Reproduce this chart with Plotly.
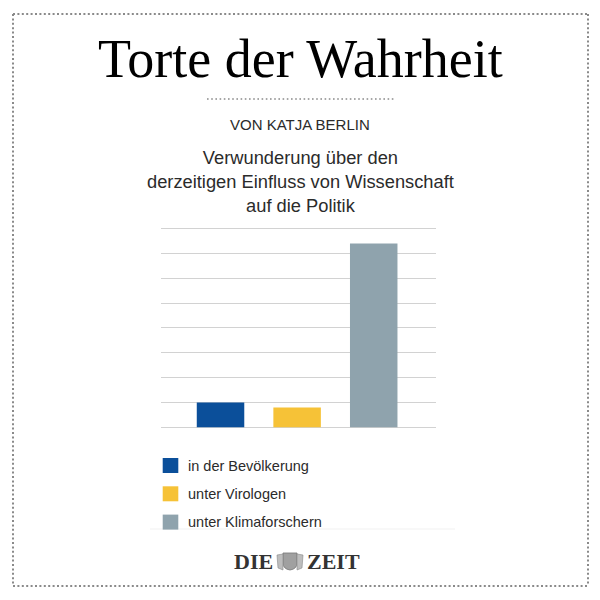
import plotly.graph_objects as go

# data
gruppen = ["in der Bevölkerung", "unter Virologen", "unter Klimaforschern"]
werte = [1.0, 0.8, 7.4]
farben = ["#0b4f9a", "#f6c237", "#8fa3ad"]

titel = "Torte der Wahrheit"
autor = "VON KATJA BERLIN"
frage = "Verwunderung über den<br>derzeitigen Einfluss von Wissenschaft<br>auf die Politik"

# the page body keeps its 8px margin, so the figure is drawn 8px in
OFF = 8
W = H = 600 - 2 * OFF


def px(x):
    return (x - OFF) / W


def py(y):
    return 1 - (y - OFF) / H


fig = go.Figure(go.Bar(
    x=list(range(len(gruppen))),
    y=werte,
    marker_color=farben,
    marker_line_width=0,
    width=0.62,
    hoverinfo="skip",
    showlegend=False,
))

pad = 0.2  # keeps the 0 and 8 gridlines inside the plot area
unit = (427.3 - 228.7) / 8
fig.update_layout(
    width=W, height=H,
    margin=dict(l=0, r=0, t=0, b=0),
    paper_bgcolor="white",
    plot_bgcolor="white",
    xaxis=dict(domain=[px(161), px(436)], range=[-0.777, 2.813],
               showticklabels=False, showgrid=False, zeroline=False, fixedrange=True),
    yaxis=dict(domain=[py(427.3 + pad * unit), py(228.7 - pad * unit)],
               range=[-pad, 8 + pad], tickvals=list(range(0, 9)),
               showticklabels=False, showgrid=True, gridcolor="#d2d2d2",
               gridwidth=1.3, zeroline=False, fixedrange=True),
)

dots = dict(color="#8a8a8a", width=2, dash="2px,2.4px")
# outer dotted frame
for x0, y0, x1, y1 in [(13, 14, 588, 14), (13, 586, 588, 586),
                       (13, 14, 13, 586), (588, 14, 588, 586)]:
    fig.add_shape(type="line", xref="paper", yref="paper",
                  x0=px(x0), y0=py(y0), x1=px(x1), y1=py(y1), line=dots)
# dotted rule under the title
fig.add_shape(type="line", xref="paper", yref="paper",
              x0=px(207), y0=py(99), x1=px(396), y1=py(99),
              line=dict(color="#8a8a8a", width=1.6, dash="1.6px,2.6px"))
# faint separator under the legend
fig.add_shape(type="line", xref="paper", yref="paper",
              x0=px(150), y0=py(529), x1=px(455), y1=py(529),
              line=dict(color="#f1f1f1", width=1))

fig.add_annotation(text=titel, x=0.5, y=py(59), xref="paper", yref="paper",
                   showarrow=False, xanchor="center", yanchor="middle",
                   font=dict(family="Liberation Serif", size=54, color="#000000"))
fig.add_annotation(text=autor, x=0.5, y=py(125), xref="paper", yref="paper",
                   showarrow=False, xanchor="center", yanchor="middle",
                   font=dict(family="Liberation Sans", size=15, color="#2b2b2b"))
fig.add_annotation(text=frage, x=0.5, y=py(181), xref="paper", yref="paper",
                   showarrow=False, xanchor="center", yanchor="middle", align="center",
                   font=dict(family="Liberation Sans", size=18.3, color="#2b2b2b"))

# legend: swatches + labels
for i, (name, col) in enumerate(zip(gruppen, farben)):
    yc = 465.5 + i * 28.3
    fig.add_shape(type="rect", xref="paper", yref="paper",
                  x0=px(162.7), x1=px(178.3), y0=py(yc - 7.5), y1=py(yc + 7.5),
                  fillcolor=col, line_width=0)
    fig.add_annotation(text=name, x=px(186), y=py(yc), xref="paper", yref="paper",
                       showarrow=False, xanchor="left", yanchor="middle",
                       font=dict(family="Liberation Sans", size=14.5, color="#2b2b2b"))

# DIE ZEIT logo
fig.add_annotation(text="<b>DIE</b>", x=px(275), y=py(561), xref="paper", yref="paper",
                   showarrow=False, xanchor="right", yanchor="middle",
                   font=dict(family="Liberation Serif", size=22, color="#333333"))
fig.add_annotation(text="<b>ZEIT</b>", x=px(305), y=py(561), xref="paper", yref="paper",
                   showarrow=False, xanchor="left", yanchor="middle",
                   font=dict(family="Liberation Serif", size=22, color="#333333"))
# little crest between the words
fig.add_shape(type="path", xref="paper", yref="paper",
              path="M %f %f L %f %f L %f %f Q %f %f %f %f Q %f %f %f %f Z" % (
                  px(283), py(553), px(297), py(553), px(297), py(563),
                  px(297), py(569), px(290), py(570),
                  px(283), py(569), px(283), py(563)),
              fillcolor="#a0a0a0", line=dict(color="#777777", width=0.8))
fig.add_shape(type="path", xref="paper", yref="paper",
              path="M %f %f L %f %f L %f %f L %f %f Z" % (
                  px(277), py(555), px(283), py(554), px(283), py(570), px(278), py(568)),
              fillcolor="#bdbdbd", line=dict(color="#888888", width=0.6))
fig.add_shape(type="path", xref="paper", yref="paper",
              path="M %f %f L %f %f L %f %f L %f %f Z" % (
                  px(297), py(554), px(303), py(555), px(302), py(568), px(297), py(570)),
              fillcolor="#bdbdbd", line=dict(color="#888888", width=0.6))

fig.write_html("out.html")
